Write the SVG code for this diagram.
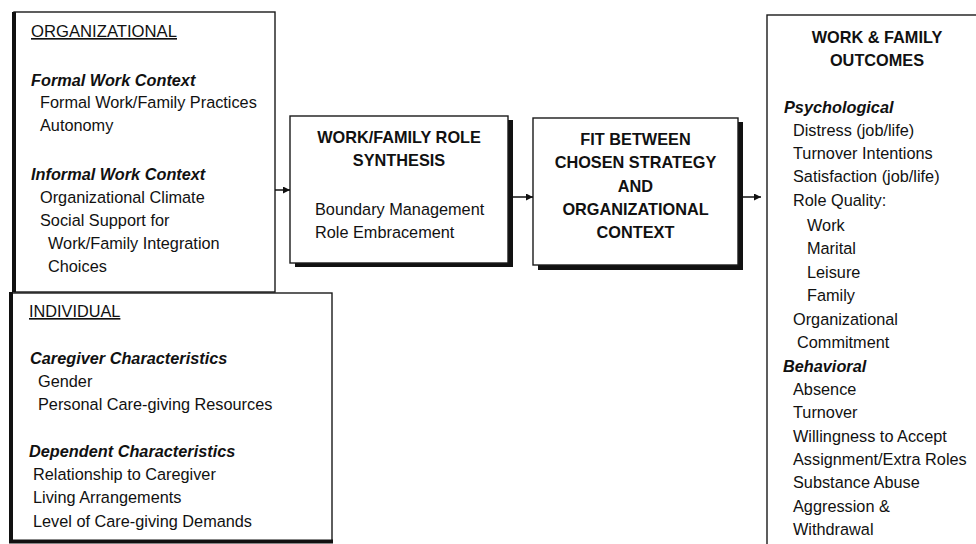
<svg xmlns="http://www.w3.org/2000/svg" width="976" height="544" viewBox="0 0 976 544">
<defs>
<marker id="arr" viewBox="0 0 10 10" refX="10" refY="5" markerWidth="7" markerHeight="7" markerUnits="userSpaceOnUse" orient="auto">
<path d="M0,0 L10,5 L0,10 z" fill="#111"/>
</marker>
<style>
text{font-family:"Liberation Sans",Arial,Helvetica,sans-serif;font-size:16.3px;fill:#111}
.h{font-weight:bold}
.c{text-anchor:middle}
.bi{font-weight:bold;font-style:italic}
.u{text-decoration:underline}
.box{fill:#fff;stroke:#1a1a1a;stroke-width:1.4}
.thick{stroke:#111;stroke-width:4;fill:none}
.sh{fill:#111}
.con{stroke:#111;stroke-width:1.5;fill:none}
</style>
</defs>
<rect width="976" height="544" fill="#fff"/>

<g id="organizational">
<rect class="box" x="14" y="12" width="261" height="280"/>
<line class="thick" x1="14" y1="12" x2="14" y2="292"/>
<text class="u" x="31" y="37" textLength="146" lengthAdjust="spacingAndGlyphs">ORGANIZATIONAL</text>
<text class="bi" x="31" y="86">Formal Work Context</text>
<text x="40" y="108">Formal Work/Family Practices</text>
<text x="40" y="131">Autonomy</text>
<text class="bi" x="31" y="180">Informal Work Context</text>
<text x="40" y="203">Organizational Climate</text>
<text x="40" y="226">Social Support for</text>
<text x="48" y="249">Work/Family Integration</text>
<text x="48" y="272">Choices</text>
</g>

<g id="individual">
<rect class="box" x="11" y="293" width="321" height="248"/>
<line class="thick" x1="11" y1="292" x2="11" y2="543"/>
<line class="thick" x1="9" y1="541.5" x2="333" y2="541.5"/>
<text class="u" x="29" y="317">INDIVIDUAL</text>
<text class="bi" x="30" y="364">Caregiver Characteristics</text>
<text x="38" y="387">Gender</text>
<text x="38" y="410">Personal Care-giving Resources</text>
<text class="bi" x="29" y="457">Dependent Characteristics</text>
<text x="33" y="480">Relationship to Caregiver</text>
<text x="33" y="503">Living Arrangements</text>
<text x="33" y="527">Level of Care-giving Demands</text>
</g>

<g id="synthesis">
<rect class="sh" x="295" y="120" width="218" height="147"/>
<rect class="box" x="290" y="116" width="218" height="147"/>
<text class="h c" x="399" y="143">WORK/FAMILY ROLE</text>
<text class="h c" x="399" y="166">SYNTHESIS</text>
<text x="315" y="215">Boundary Management</text>
<text x="315" y="238">Role Embracement</text>
</g>

<g id="fit">
<rect class="sh" x="538" y="122" width="205" height="148"/>
<rect class="box" x="533" y="118" width="205" height="147"/>
<text class="h c" x="635.5" y="145">FIT BETWEEN</text>
<text class="h c" x="635.5" y="168">CHOSEN STRATEGY</text>
<text class="h c" x="635.5" y="192">AND</text>
<text class="h c" x="635.5" y="215">ORGANIZATIONAL</text>
<text class="h c" x="635.5" y="238">CONTEXT</text>
</g>

<g id="outcomes">
<rect class="box" x="767" y="15" width="230" height="545"/>
<text class="h c" x="877" y="43">WORK &amp; FAMILY</text>
<text class="h c" x="877" y="66">OUTCOMES</text>
<text class="bi" x="784" y="113">Psychological</text>
<text x="793" y="136">Distress (job/life)</text>
<text x="793" y="159">Turnover Intentions</text>
<text x="793" y="182">Satisfaction (job/life)</text>
<text x="793" y="206">Role Quality:</text>
<text x="807" y="231">Work</text>
<text x="807" y="254">Marital</text>
<text x="807" y="278">Leisure</text>
<text x="807" y="301">Family</text>
<text x="793" y="325">Organizational</text>
<text x="797" y="348">Commitment</text>
<text class="bi" x="783" y="372">Behavioral</text>
<text x="793" y="395">Absence</text>
<text x="793" y="418">Turnover</text>
<text x="793" y="442">Willingness to Accept</text>
<text x="793" y="465">Assignment/Extra Roles</text>
<text x="793" y="488">Substance Abuse</text>
<text x="793" y="512">Aggression &amp;</text>
<text x="793" y="535">Withdrawal</text>
</g>

<g id="connectors">
<path class="con" d="M275,190 L290,190" marker-end="url(#arr)"/>
<path class="con" d="M513,197 L533,197" marker-end="url(#arr)"/>
<path class="con" d="M743,197 L761,197" marker-end="url(#arr)"/>
</g>
</svg>
